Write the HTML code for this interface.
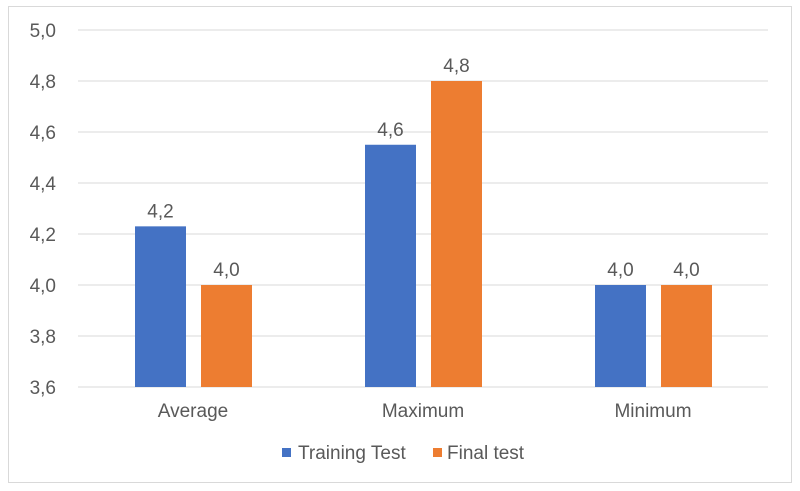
<!DOCTYPE html>
<html><head><meta charset="utf-8"><style>
html,body{margin:0;padding:0;background:#fff;width:800px;height:491px;overflow:hidden}
text{font-family:"Liberation Sans",Arial,sans-serif;fill:#595959}
</style></head><body>
<svg id="chart" width="800" height="491" xmlns="http://www.w3.org/2000/svg">
<rect x="8.5" y="6.5" width="783" height="476" fill="#fff" stroke="#d9d9d9"/>
<g id="grid"></g><g id="bars"></g>
<g>
<rect x="282" y="448" width="9" height="9" fill="#4472c4"/>
<text x="298" y="459" font-size="19">Training Test</text>
<rect x="433" y="448" width="9" height="9" fill="#ed7d31"/>
<text x="447" y="459" font-size="19">Final test</text>
</g>
</svg>
<script>
const categories=["Average","Maximum","Minimum"];
const trainingValues=[4.23,4.55,4.0];
const finalValues=[4.0,4.8,4.0];
const trainingLabels=["4,2","4,6","4,0"];
const finalLabels=["4,0","4,8","4,0"];
const yTicks=[3.6,3.8,4.0,4.2,4.4,4.6,4.8,5.0];
const NS="http://www.w3.org/2000/svg";
const x0=78,x1=768,yMin=3.6,yMax=5.0,yTop=30,yBot=387;
function y(v){return yBot-(v-yMin)/(yMax-yMin)*(yBot-yTop);}
const bw=(x1-x0)/categories.length;
function mk(tag,attrs,parent){const e=document.createElementNS(NS,tag);for(const k in attrs)e.setAttribute(k,attrs[k]);parent.appendChild(e);return e;}
const grid=document.getElementById('grid'),bars=document.getElementById('bars');
yTicks.forEach(t=>{
 const l=mk('line',{x1:x0,x2:x1,y1:y(t),y2:y(t),stroke:'#d9d9d9','stroke-width':1},grid);
 
 
 const tx=mk('text',{x:56,y:y(t)+7,'text-anchor':'end','font-size':19},grid);
 tx.textContent=t.toFixed(1).replace('.',',');
 
 
});
categories.forEach((c,i)=>{
 const cx=x0+bw*(i+0.5);
 [[trainingValues[i],trainingLabels[i],'#4472c4',cx-58,'training'],[finalValues[i],finalLabels[i],'#ed7d31',cx+8,'final']].forEach(([v,lab,col,bx,s])=>{
  const r=mk('rect',{x:bx,y:y(v),width:51,height:yBot-y(v),fill:col},bars);
  
  
  const t=mk('text',{x:bx+25.5,y:y(v)-9,'text-anchor':'middle','font-size':19},bars);
  t.textContent=lab;
  
  
 });
 const t=mk('text',{x:cx,y:417,'text-anchor':'middle','font-size':19},bars);
 t.textContent=c;
 
 
});
</script>
</body></html>
